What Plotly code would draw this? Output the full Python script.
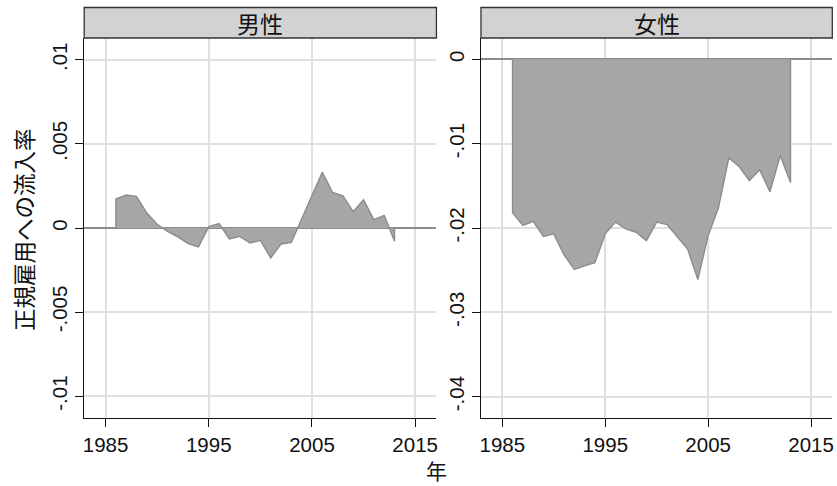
import plotly.graph_objects as go

years = list(range(1986, 2014))
male = [0.00172, 0.00196, 0.00188, 0.00089, 0.00022, -0.00020, -0.00053, -0.00093,
        -0.00113, 0.00008, 0.00026, -0.00065, -0.00050, -0.00089, -0.00074, -0.00178,
        -0.00095, -0.00085, 0.00054, 0.00193, 0.00332, 0.00211, 0.00192, 0.00097,
        0.00168, 0.00049, 0.00075, -0.00078]
female = [-0.0182, -0.0197, -0.0192, -0.0210, -0.0207, -0.0232, -0.0249, -0.0245,
          -0.0241, -0.0207, -0.0193, -0.0201, -0.0205, -0.0215, -0.0193, -0.0196,
          -0.0210, -0.0225, -0.0261, -0.0209, -0.0176, -0.0117, -0.0127, -0.0144,
          -0.0131, -0.0157, -0.0114, -0.0146]
panel_titles = ["男性", "女性"]
x_ticks = [1985, 1995, 2005, 2015]
male_yticks = [0.01, 0.005, 0, -0.005, -0.01]
male_yticklabels = [".01", ".005", "0", "-.005", "-.01"]
female_yticks = [0, -0.01, -0.02, -0.03, -0.04]
female_yticklabels = ["0", "-.01", "-.02", "-.03", "-.04"]

W, H = 837, 486
FONT = "Liberation Sans, Arial, Noto Sans CJK JP"
CJK = "Noto Sans CJK JP, Liberation Sans"

fig = go.Figure()

def area(vals, xa, ya):
    xs = [years[0]] + years + [years[-1]]
    ys = [0] + vals + [0]
    fig.add_trace(go.Scatter(x=xs, y=ys, mode="lines", fill="toself",
                             fillcolor="#a6a6a6", line=dict(color="#8c8c8c", width=1.4),
                             xaxis=xa, yaxis=ya, showlegend=False, hoverinfo="skip"))

area(male, "x", "y")
area(female, "x2", "y2")

y0 = 1 - 418 / H
y1 = 1 - 38 / H
dom1 = [83.5 / W, 437 / W]
dom2 = [481.7 / W, 834.3 / W]

xcommon = dict(range=[1982.93, 2017.06], tickvals=x_ticks, ticktext=[str(t) for t in x_ticks],
               showgrid=True, gridcolor="#e0e0e0", gridwidth=1.6, zeroline=False,
               showline=True, linecolor="#111111", linewidth=1.4,
               ticks="outside", ticklen=8, tickwidth=1.3, tickcolor="#111111",
               tickfont=dict(family=FONT, size=20.5, color="#111111"))
ycommon = dict(showgrid=True, gridcolor="#e0e0e0", gridwidth=1.6,
               zeroline=True, zerolinecolor="#8c8c8c", zerolinewidth=1.6,
               showline=True, linecolor="#111111", linewidth=1.4,
               ticks="outside", ticklen=8, tickwidth=1.3, tickcolor="#111111",
               tickangle=-90, tickfont=dict(family=FONT, size=20.5, color="#111111"))

fig.update_layout(
    width=W, height=H, margin=dict(l=0, r=0, t=0, b=0),
    paper_bgcolor="white", plot_bgcolor="white",
    xaxis=dict(domain=dom1, anchor="y", **xcommon),
    xaxis2=dict(domain=dom2, anchor="y2", **xcommon),
    yaxis=dict(domain=[y0, y1], anchor="x", range=[-0.0113, 0.0113],
               tickvals=male_yticks, ticktext=male_yticklabels, **ycommon),
    yaxis2=dict(domain=[y0, y1], anchor="x2", range=[-0.04253, 0.00253],
                tickvals=female_yticks, ticktext=female_yticklabels, **ycommon),
)

# panel header strips
for dom, title in zip([dom1, dom2], panel_titles):
    fig.add_shape(type="rect", xref="paper", yref="paper",
                  x0=dom[0], x1=dom[1], y0=y1, y1=1 - 7.5 / H,
                  fillcolor="#d2d2d2", line=dict(color="#333333", width=1.3))
    fig.add_annotation(xref="paper", yref="paper", x=(dom[0] + dom[1]) / 2,
                       y=(y1 + 1 - 7.5 / H) / 2, text=title, showarrow=False,
                       font=dict(family=CJK, size=23, color="#111111"),
                       xanchor="center", yanchor="middle")

fig.add_annotation(xref="paper", yref="paper", x=22 / W, y=1 - 229 / H,
                   text="正規雇用への流入率", textangle=-90, showarrow=False,
                   font=dict(family=CJK, size=22.5, color="#111111"),
                   xanchor="center", yanchor="middle")
fig.add_annotation(xref="paper", yref="paper", x=437 / W, y=1 - 470 / H,
                   text="年", showarrow=False,
                   font=dict(family=CJK, size=21, color="#111111"),
                   xanchor="center", yanchor="middle")

fig.write_html("out.html", config={"displayModeBar": False},
               post_script="document.body.style.margin='0';")
